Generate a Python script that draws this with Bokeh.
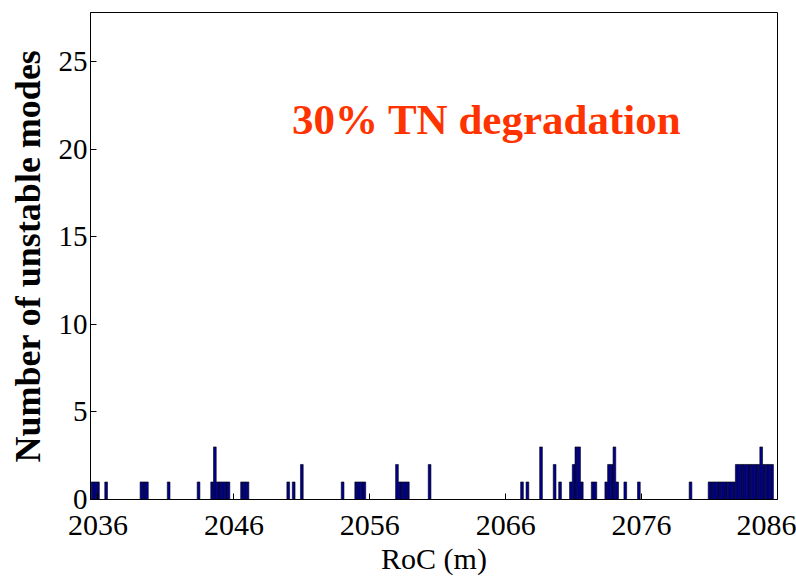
from bokeh.plotting import figure
from bokeh.models import Range1d, FixedTicker, Label
from bokeh.embed import file_html
from bokeh.resources import INLINE

# Histogram data: RoC bin centres (m) and number of unstable modes
roc = [2035.6, 2035.8, 2036.0, 2036.6,
       2039.2, 2039.4, 2039.6, 2041.2, 2043.4,
       2044.4, 2044.6, 2044.8, 2045.0, 2045.2, 2045.4, 2045.6,
       2046.6, 2046.8, 2047.0,
       2050.0, 2050.4, 2051.0, 2054.0,
       2055.0, 2055.2, 2055.4, 2055.6,
       2058.0, 2058.2, 2058.4, 2058.6, 2058.8,
       2060.4, 2067.2, 2067.6, 2068.6, 2069.6, 2070.0,
       2070.8, 2071.0, 2071.2, 2071.4, 2071.6,
       2072.4, 2072.6,
       2073.4, 2073.6, 2073.8, 2074.0, 2074.2,
       2074.8, 2075.8, 2079.6,
       2081.0, 2081.2, 2081.4, 2081.6, 2081.8, 2082.0, 2082.2, 2082.4, 2082.6, 2082.8,
       2083.0, 2083.2, 2083.4, 2083.6, 2083.8, 2084.0, 2084.2, 2084.4, 2084.6, 2084.8,
       2085.0, 2085.2, 2085.4, 2085.6]
counts = [1, 1, 1, 1,
          1, 1, 1, 1, 1,
          1, 3, 1, 1, 1, 1, 1,
          1, 1, 1,
          1, 1, 2, 1,
          1, 1, 1, 1,
          2, 1, 1, 1, 1,
          2, 1, 1, 3, 2, 1,
          1, 2, 3, 3, 1,
          1, 1,
          1, 2, 2, 3, 1,
          1, 1, 1,
          1, 1, 1, 1, 1, 1, 1, 1, 1, 1,
          2, 2, 2, 2, 2, 2, 2, 2, 2, 3,
          2, 2, 2, 2]
bin_width = 0.2

x_ticks = [2036, 2046, 2056, 2066, 2076, 2086]
y_ticks = [0, 5, 10, 15, 20, 25]

FONT = "Liberation Serif"

p = figure(width=796, height=577, output_backend="svg", toolbar_location=None,
           x_range=Range1d(2035.45, 2086.0), y_range=Range1d(0, 27.8),
           min_border_left=90, min_border_right=19, min_border_top=12, min_border_bottom=77)

p.vbar(x=roc, top=counts, bottom=0, width=bin_width,
       fill_color="#000090", line_color="black", line_width=0.6)

p.xgrid.visible = False
p.ygrid.visible = False
p.outline_line_color = "black"
p.outline_line_width = 1
p.background_fill_color = "white"
p.border_fill_color = "white"

for ax in (p.xaxis[0], p.yaxis[0]):
    ax.axis_line_color = "black"
    ax.major_tick_in = 6
    ax.major_tick_out = 0
    ax.minor_tick_line_color = None
    ax.major_tick_line_color = "black"
    ax.major_label_text_font = FONT
    ax.major_label_text_color = "black"
    ax.axis_label_text_font = FONT
    ax.axis_label_text_color = "black"

p.xaxis.ticker = FixedTicker(ticks=x_ticks)
p.yaxis.ticker = FixedTicker(ticks=y_ticks)
p.xaxis.major_label_text_font_size = "30px"
p.yaxis.major_label_text_font_size = "29px"
p.xaxis.major_label_standoff = 16
p.yaxis.major_label_standoff = 3

p.xaxis.axis_label = "RoC (m)"
p.xaxis.axis_label_text_font_size = "30px"
p.xaxis.axis_label_text_font_style = "normal"
p.xaxis.axis_label_standoff = 4

p.yaxis.axis_label = "Number of unstable modes"
p.yaxis.axis_label_text_font_size = "36px"
p.yaxis.axis_label_text_font_style = "bold"
p.yaxis.axis_label_standoff = 8

title = Label(x=2064.6, y=21.7, text="30% TN degradation",
              text_font=FONT, text_font_size="43px", text_font_style="bold",
              text_color="#ff3300", text_align="center", text_baseline="middle")
p.add_layout(title)

open("out.html", "w").write(file_html(p, INLINE))
